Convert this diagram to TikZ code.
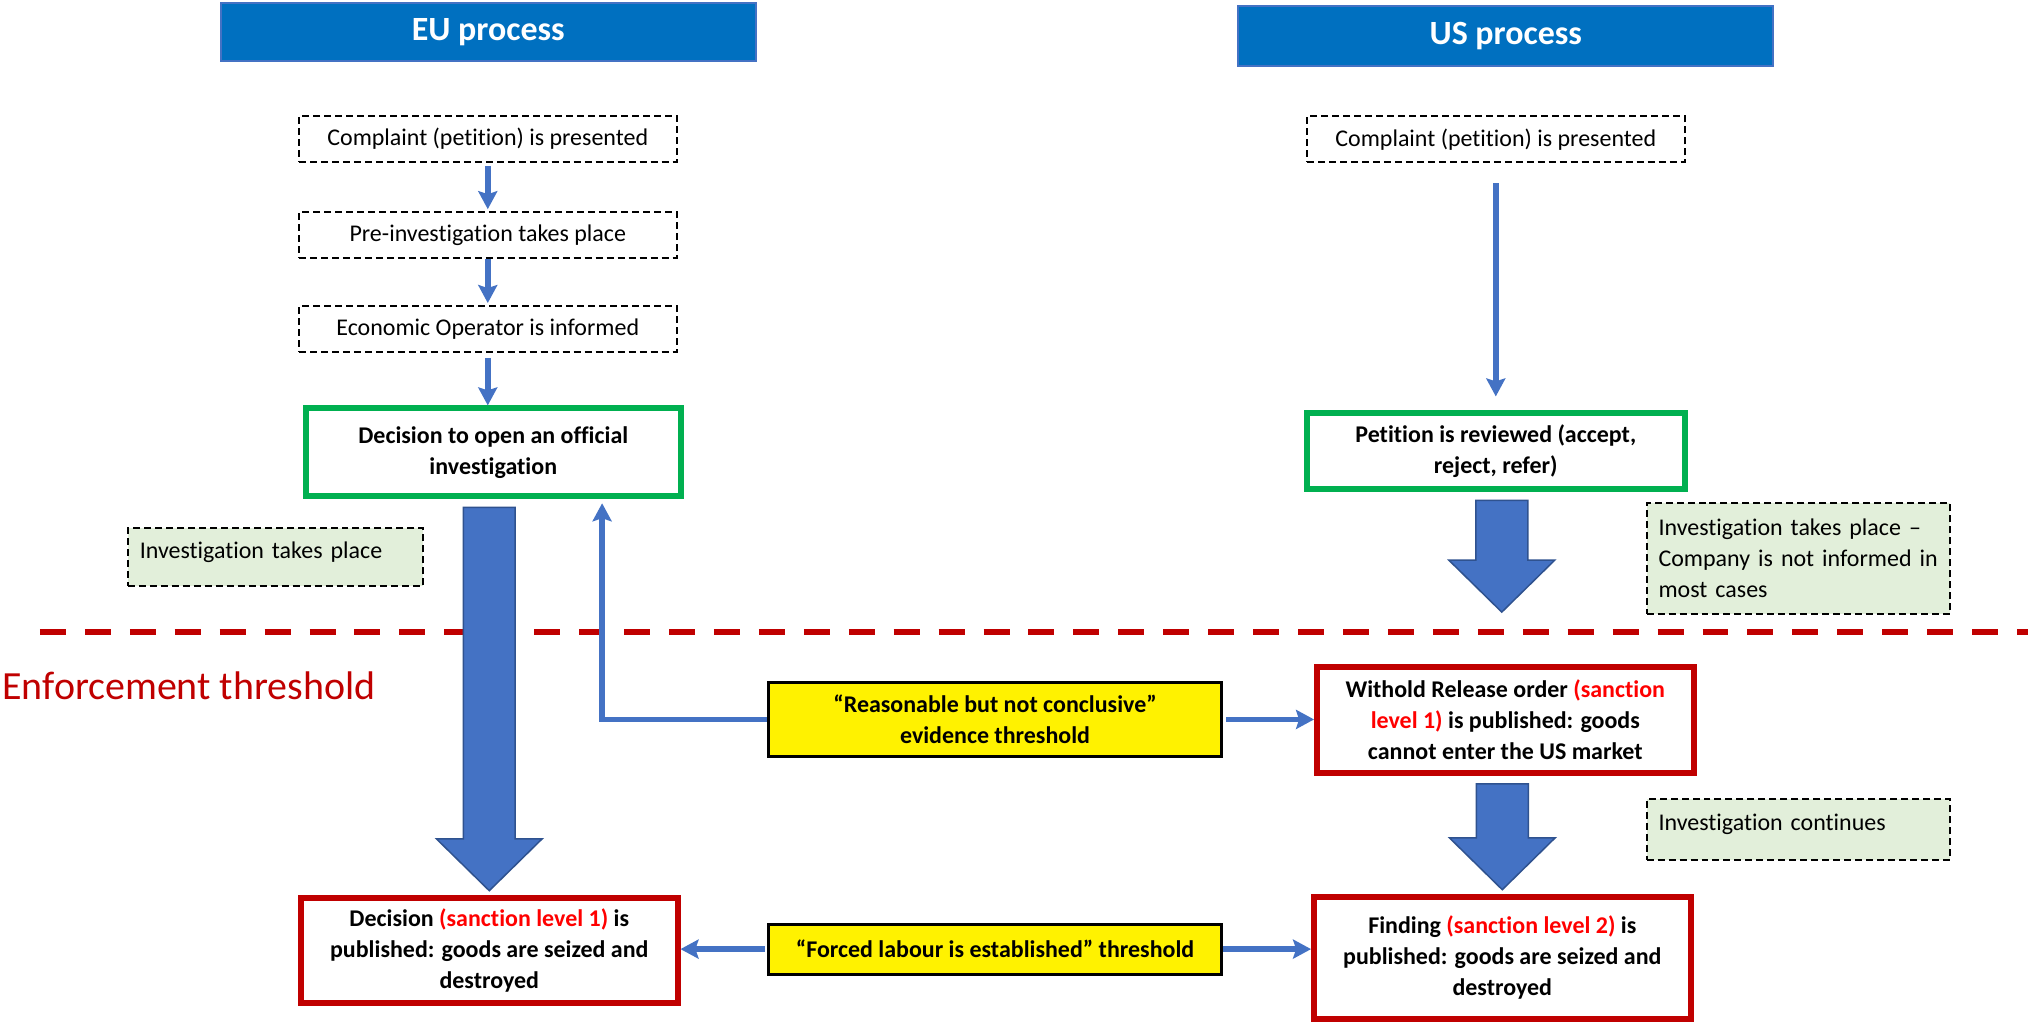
\documentclass[tikz,border=0pt]{standalone}
\usepackage{fontspec}
\setmainfont{Carlito}[Ligatures={TeX,NoCommon},RawFeature={-liga;-calt;-clig}]
\usetikzlibrary{%
  arrows.meta,% wg. Stealth
  calc% wg. let
}
\definecolor{headblue}{HTML}{0070C0}
\definecolor{lineblue}{HTML}{4472C4}
\definecolor{edgeblue}{HTML}{2F528F}
\definecolor{okgreen}{HTML}{00B050}
\definecolor{stopred}{HTML}{C00000}
\definecolor{notegreen}{HTML}{E2EFDA}

% fat arrow from #1 down to #2
\newcommand{\blockarrow}[2]{%
  \path[bulk] let \p1=(#2 |- #1), \p2=(#2) in
    (\x1-13pt,\y1-4pt) -- (\x1+13pt,\y1-4pt) -- (\x1+13pt,\y2+28pt) -- (\x1+26.5pt,\y2+28pt)
    -- (\x1,\y2+2pt) -- (\x1-26.5pt,\y2+28pt) -- (\x1-13pt,\y2+28pt) -- cycle;}

\begin{document}
\begin{tikzpicture}[x=0.5pt,y=-0.5pt,header/.style={
	rectangle,
	minimum width=268pt,
	minimum height=29pt,
	fill=headblue,
	draw=lineblue,
	line width=1pt,
	text=white,
	font=\fontsize{17}{20}\selectfont\bfseries
	},dashbox/.style={
	rectangle,minimum width=189pt,minimum height=23pt,
	draw=black,line width=1pt,dash pattern=on 3.5pt off 2pt,
	font=\fontsize{12}{15.5}\selectfont
	},opening/.style={
	rectangle,minimum width=188pt,minimum height=44pt,
	draw=okgreen,line width=3pt,align=center,
	font=\fontsize{12}{15.5}\selectfont\bfseries
	},sanction/.style={
	rectangle,minimum width=188.5pt,
	draw=stopred,line width=3pt,align=center,
	font=\fontsize{12}{15.5}\selectfont\bfseries
	},threshold/.style={
	rectangle,minimum width=227pt,
	fill=yellow,draw=black,line width=1.5pt,align=center,
	font=\fontsize{12}{15.5}\selectfont\bfseries
	},note/.style={
	rectangle,text width=140pt,inner xsep=6pt,align=left,
	fill=notegreen,draw=black,line width=1pt,dash pattern=on 3.5pt off 2pt,
	font=\fontsize{12}{15.5}\selectfont
	},flow/.style={
	draw=lineblue,line width=2.75pt,
	-{Stealth[length=9pt,width=9.5pt,inset=1.5pt]}
	},bulk/.style={
	fill=lineblue,draw=edgeblue,line width=0.75pt
	},limit/.style={
	draw=stopred,line width=3pt,dash pattern=on 13pt off 9.5pt
	},point1/.style={
	coordinate
	}
]

\fill[white] (0,0) rectangle (2031,1033);

% headers
\node (atomEU) [header] at (489,32) {EU process};
\node (atomUS) [header,minimum height=30pt] at (1508,36) {US process};

% EU column
\node (atomComplEU) [dashbox] at (488.5,139) {Complaint (petition) is presented};
\node (atomPreEU) [dashbox] at (488.5,235.5) {Pre-investigation takes place};
\node (atomOpEU) [dashbox] at (488.5,329.5) {Economic Operator is informed};
\node (atomDecEU) [opening] at (494,453) {Decision to open an official\\investigation};
\node (atomInvEU) [note,text width=136pt,text height=9pt,text depth=8pt,minimum height=29pt] at (276,558) {Investigation takes place};
\node (atomFinEU) [sanction,minimum height=52.5pt] at (490,951.5) {Decision \textcolor{red}{(sanction level 1)} is\\published: goods are seized and\\destroyed};

% US column
\node (atomComplUS) [dashbox] at (1498,139.5) {Complaint (petition) is presented};
\node (atomPetUS) [opening,minimum height=38pt,minimum width=189pt] at (1498,452) {Petition is reviewed (accept,\\reject, refer)};
\node (atomInvUS) [note,minimum height=55.5pt] at (1801,559.5) {Investigation takes place –\\Company is not informed in\\most cases};
\node (atomWRO) [sanction,minimum height=53pt] at (1507.5,721) {Withold Release order \textcolor{red}{(sanction}\\\textcolor{red}{level 1)} is published: goods\\cannot enter the US market};
\node (atomContUS) [note,text height=9pt,text depth=8pt,minimum height=30.5pt] at (1801,830.5) {Investigation continues};
\node (atomFinUS) [sanction,minimum height=61pt] at (1504.5,959) {Finding \textcolor{red}{(sanction level 2)} is\\published: goods are seized and\\destroyed};

% thresholds
\node (atomReas) [threshold,minimum height=37pt] at (996.5,720.5) {“Reasonable but not conclusive”\\evidence threshold};
\node (atomForced) [threshold,minimum height=25pt] at (996.5,950.5) {“Forced labour is established” threshold};
\node (atomEnf) [anchor=base west,inner sep=0pt,text=stopred,font=\fontsize{20}{24}\selectfont] at (2,701) {Enforcement threshold};

\node (POSA) [point1] at (603,504) {};
\node (POSB) [point1] at (1504,617) {};
\node (POSC) [point1] at (40,633) {};
\node (POSD) [point1] at (2031,633) {};

\draw[limit] (POSC) -- (POSD);

\draw[flow,shorten <=1.5pt,shorten >=1pt] (atomComplEU) -- (atomPreEU);
\draw[flow,shorten >=1pt] (atomPreEU) -- (atomOpEU);
\draw[flow,shorten <=2.5pt] (atomOpEU.south) -- (atomOpEU.south |- atomDecEU.north);
\draw[flow,shorten <=10pt,shorten >=7pt] (atomComplUS) -- (atomPetUS);
\draw[flow] (atomReas.west) -| (POSA);
\draw[flow,shorten <=1.5pt] (atomReas.east) -- (atomReas.east -| atomWRO.west);
\draw[flow,shorten <=1pt] (atomForced.west) -- (atomForced.west -| atomFinEU.east);
\draw[flow] (atomForced.east) -- (atomForced.east -| atomFinUS.west);

\blockarrow{atomDecEU.south}{atomFinEU.north}
\blockarrow{atomPetUS.south}{POSB}
\blockarrow{atomWRO.south}{atomFinUS.north}

\end{tikzpicture}
\end{document}
